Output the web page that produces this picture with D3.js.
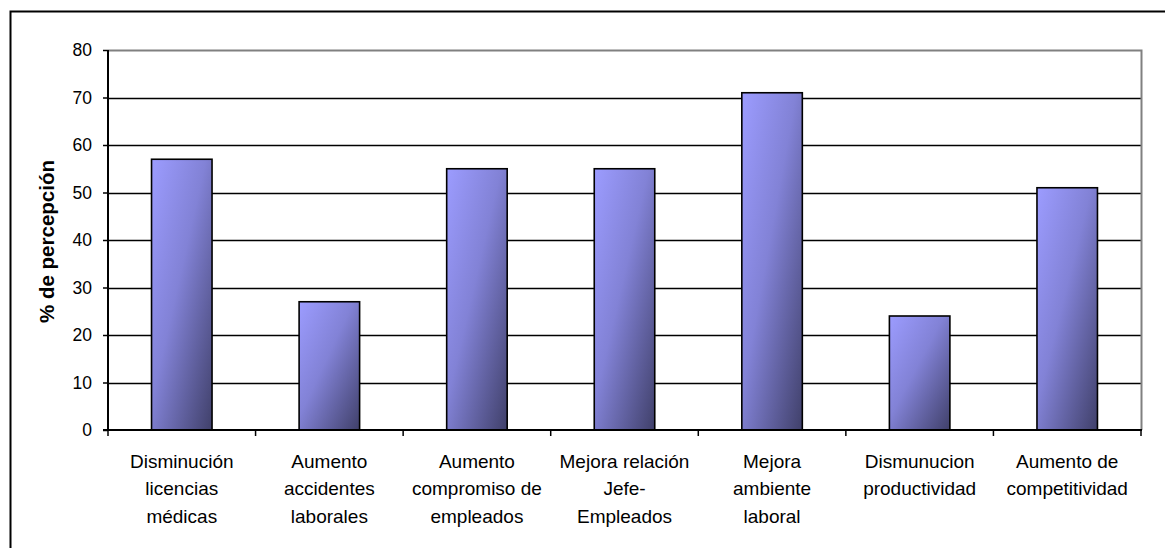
<!DOCTYPE html>
<html>
<head>
<meta charset="utf-8">
<script src="https://cdn.jsdelivr.net/npm/d3@7"></script>
<style>
  html, body { margin: 0; padding: 0; background: #fff; }
  svg { display: block; font-family: "Liberation Sans", Arial, sans-serif; }
</style>
</head>
<body>
<svg id="chart" width="1165" height="548"></svg>
<script>
// Categories (each label split into its display lines)
const categories = [
  ["Disminución", "licencias", "médicas"],
  ["Aumento", "accidentes", "laborales"],
  ["Aumento", "compromiso de", "empleados"],
  ["Mejora relación", "Jefe-", "Empleados"],
  ["Mejora", "ambiente", "laboral"],
  ["Dismunucion", "productividad"],
  ["Aumento de", "competitividad"]
];
// Percentage of perception per category
const values = [57, 27, 55, 55, 71, 24, 51];
const yTicks = [0, 10, 20, 30, 40, 50, 60, 70, 80];
const yLabel = "% de percepción";

const svg = d3.select("#chart");
const plot = { left: 108, top: 50, right: 1141, bottom: 430 };

// Outer chart frame
svg.append("rect")
  .attr("x", 10.5).attr("y", 11.5)
  .attr("width", 1200).attr("height", 600)
  .attr("fill", "none").attr("stroke", "#000").attr("stroke-width", 2);

const defs = svg.append("defs");
const grad = defs.append("linearGradient")
  .attr("id", "barGrad")
  .attr("x1", "0").attr("y1", "0").attr("x2", "1").attr("y2", "1");
grad.append("stop").attr("offset", "0%").attr("stop-color", "#9c9cff");
grad.append("stop").attr("offset", "45%").attr("stop-color", "#8282d6");
grad.append("stop").attr("offset", "100%").attr("stop-color", "#40406a");

const x = d3.scaleBand()
  .domain(d3.range(categories.length))
  .range([plot.left, plot.right])
  .paddingInner(0.59).paddingOuter(0.295);

const xOuter = d3.scaleBand()
  .domain(d3.range(categories.length))
  .range([plot.left, plot.right]);

const y = d3.scaleLinear().domain([0, 80]).range([plot.bottom, plot.top]);

// Horizontal gridlines
svg.append("g").selectAll("line")
  .data(yTicks.filter(t => t > 0 && t < 80))
  .join("line")
  .attr("x1", plot.left).attr("x2", plot.right)
  .attr("y1", d => Math.round(y(d)) + 0.5).attr("y2", d => Math.round(y(d)) + 0.5)
  .attr("stroke", "#000").attr("stroke-width", 1.5);

// Plot area top/right border
svg.append("path")
  .attr("d", `M${plot.left},${y(80) + 0.5}H${plot.right + 0.5}V${plot.bottom}`)
  .attr("fill", "none").attr("stroke", "#808080").attr("stroke-width", 2);

// Bars
svg.append("g").selectAll("rect")
  .data(values)
  .join("rect")
  .attr("x", (d, i) => x(i))
  .attr("y", d => y(d))
  .attr("width", x.bandwidth())
  .attr("height", d => y(0) - y(d))
  .attr("fill", "url(#barGrad)")
  .attr("stroke", "#000").attr("stroke-width", 1.6);

// Y axis
const yAxis = d3.axisLeft(y).tickValues(yTicks).tickSize(5).tickPadding(11);
const gy = svg.append("g").attr("transform", `translate(${plot.left},0)`).call(yAxis);
gy.select(".domain").attr("stroke", "#000").attr("stroke-width", 2).attr("d", `M0,${y(80)}V${y(0)}`);
gy.selectAll(".tick line").attr("stroke", "#000").attr("stroke-width", 1.5);
gy.selectAll(".tick text")
  .attr("font-family", "Liberation Sans, Arial, sans-serif")
  .attr("font-size", 17.5).attr("fill", "#000");

// X axis with category boundary ticks
const gx = svg.append("g").attr("transform", `translate(0,${plot.bottom})`);
gx.append("line")
  .attr("x1", plot.left - 5).attr("x2", plot.right + 1)
  .attr("y1", 0).attr("y2", 0)
  .attr("stroke", "#000").attr("stroke-width", 2);
gx.selectAll(".xtick")
  .data(d3.range(categories.length + 1))
  .join("line")
  .attr("class", "xtick")
  .attr("x1", i => i < categories.length ? xOuter(i) : plot.right)
  .attr("x2", i => i < categories.length ? xOuter(i) : plot.right)
  .attr("y1", 0).attr("y2", 6)
  .attr("stroke", "#000").attr("stroke-width", 1.5);

// Category labels
const labels = gx.selectAll(".xlabel")
  .data(categories)
  .join("text")
  .attr("class", "xlabel")
  .attr("text-anchor", "middle")
  .attr("font-size", 19)
  .attr("fill", "#000");
labels.each(function(lines, i) {
  const cx = xOuter(i) + xOuter.bandwidth() / 2;
  d3.select(this).selectAll("tspan")
    .data(lines)
    .join("tspan")
    .attr("x", cx)
    .attr("y", (d, j) => 37.5 + j * 27.7)
    .text(d => d);
});

// Y axis title
svg.append("text")
  .attr("transform", `translate(54,${(plot.top + plot.bottom) / 2 + 1.5}) rotate(-90)`)
  .attr("text-anchor", "middle")
  .attr("font-size", 20.5).attr("font-weight", "bold")
  .attr("fill", "#000")
  .text(yLabel);
</script>
</body>
</html>
